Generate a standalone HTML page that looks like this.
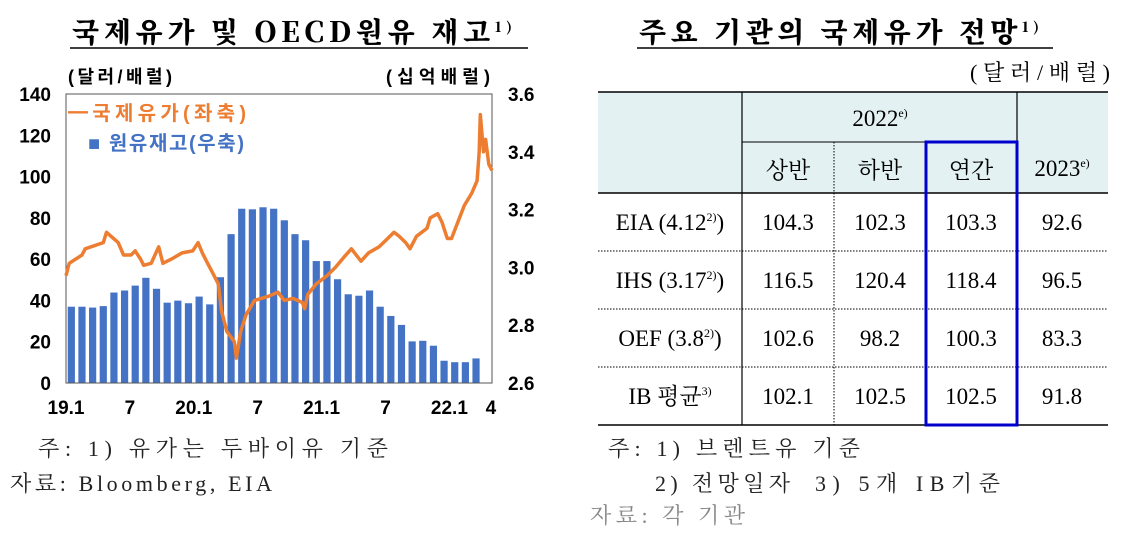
<!DOCTYPE html>
<html><head><meta charset="utf-8">
<style>
html,body{margin:0;padding:0;background:#fff;}
body{width:1127px;height:542px;overflow:hidden;position:relative;}
svg{position:absolute;left:0;top:0;}
.sans{font-family:"Liberation Sans","Noto Sans CJK KR",sans-serif;font-weight:bold;}
.ser{font-family:"Liberation Serif","Noto Serif CJK SC",serif;}
</style></head>
<body>
<svg id="c" width="1127" height="542" viewBox="0 0 1127 542">
  <text x="72" y="42" font-size="28" font-weight="900" font-family="'Noto Serif CJK SC','Noto Sans CJK KR',serif" textLength="440" lengthAdjust="spacing">국제유가 및 OECD원유 재고<tspan font-size="14" dy="-10">1)</tspan></text>
  <line x1="70" y1="48" x2="528" y2="48" stroke="#000" stroke-width="1.5"/>
  <text x="639" y="42" font-size="28" font-weight="900" font-family="'Noto Serif CJK SC','Noto Sans CJK KR',serif" textLength="400" lengthAdjust="spacing">주요 기관의 국제유가 전망<tspan font-size="14" dy="-10">1)</tspan></text>
  <line x1="637" y1="48" x2="1053" y2="48" stroke="#000" stroke-width="1.5"/>

  <g id="chart">
    <text x="68" y="83" class="sans" font-size="18" textLength="104">(달러/배럴)</text>
    <text x="386" y="83" class="sans" font-size="18" textLength="104">(십억배럴)</text>
  </g>

  <g id="table"></g>

  <g class="ser" font-size="22" fill="#222">
    <text x="38" y="456" textLength="350" lengthAdjust="spacing">주: 1) 유가는 두바이유 기준</text>
    <text x="10" y="491" textLength="262" lengthAdjust="spacing">자료: Bloomberg, EIA</text>
    <text x="608" y="456" textLength="252" lengthAdjust="spacing">주: 1) 브렌트유 기준</text>
    <text x="655" y="491" textLength="135" lengthAdjust="spacing">2) 전망일자</text>
    <text x="815" y="491" textLength="185" lengthAdjust="spacing">3) 5개 IB기준</text>
    <text x="590" y="523" fill="#888" textLength="155" lengthAdjust="spacing">자료: 각 기관</text>
  </g>
  <text x="970" y="80" class="ser" font-size="22" textLength="140" lengthAdjust="spacing">(달러/배럴)</text>
</svg>
<script>
// ---- chart data ----
const leftTicks = [0,20,40,60,80,100,120,140];
const rightTicks = ["2.6","2.8","3.0","3.2","3.4","3.6"];
const xLabels = ["19.1","7","20.1","7","21.1","7","22.1","4"];
const xLabelMonths = [0,6,12,18,24,30,36,39.9];
const stockValues = [2.864,2.864,2.861,2.866,2.913,2.920,2.937,2.964,2.926,2.878,2.885,2.876,2.899,2.872,2.966,3.115,3.203,3.201,3.208,3.203,3.163,3.115,3.094,3.022,3.022,2.959,2.907,2.902,2.920,2.864,2.832,2.801,2.744,2.746,2.729,2.677,2.672,2.672,2.685];
const oilMonths = [0,0.3,1.5,1.8,3.5,3.8,4.9,5.4,6.1,6.5,7,7.3,8,8.7,9.1,9.9,10.9,11.9,12.4,12.8,13.3,13.8,14.3,14.6,15.1,15.8,16,16.4,16.9,17.7,19,19.9,20.5,21.3,22.2,22.4,22.7,23.5,24.5,25.3,26.1,26.8,27.4,27.7,28.4,29.4,30,30.8,31.3,31.9,32.3,32.9,33.9,34.2,34.9,35.3,35.8,36.2,36.8,37.4,38.1,38.6,38.8,38.9,39.2,39.4,39.7,40];
const oilValues = [52,58,62,65,68,73,68,62,62,64,60,57,58,66,58,60,63,64,68,63,58,53,48,35,25,20,12,25,33,40,42,44,40,41,39,36,43,48,52,56,61,65,61,59,63,66,69,73,71,68,65,71,75,80,82,78,70,70,78,86,92,98,112,130,112,118,106,103];
// ---- table data ----
const rowLabels = ["EIA (4.12","IHS (3.17","OEF (3.8","IB 평균"];
const rowSup = ["2)","2)","2)","3)"];
const col1 = ["104.3","116.5","102.6","102.1"];
const col2 = ["102.3","120.4","98.2","102.5"];
const col3 = ["103.3","118.4","100.3","102.5"];
const col4 = ["92.6","96.5","83.3","91.8"];

const NS="http://www.w3.org/2000/svg";
function mk(tag,attrs,parent){const e=document.createElementNS(NS,tag);for(const k in attrs)e.setAttribute(k,attrs[k]);parent.appendChild(e);return e;}
const L=66,R=492,T=94,B=383;
const months=40, slot=(R-L)/months;
const xM=m=>L+m*slot;
const yL=v=>B-(v/140)*(B-T);
const yR=v=>B-((v-2.6)/1.0)*(B-T);
const g=document.getElementById('chart');

stockValues.forEach((v,i)=>{
  const cx=xM(i+0.5), y=yR(v);
  const r=mk('rect',{x:cx-3.6,y:y,width:7.2,height:B-y,fill:'#4472c4'},g);
  
  
});
const fr=mk('rect',{x:L,y:T,width:R-L,height:B-T,fill:'none',stroke:'#555','stroke-width':1},g);


const pts=oilMonths.map((m,i)=>xM(m).toFixed(1)+','+yL(oilValues[i]).toFixed(1)).join(' ');
const pl=mk('polyline',{points:pts,fill:'none',stroke:'#ed7d31','stroke-width':3.5,'stroke-linejoin':'round'},g);


leftTicks.forEach(v=>{
  const t=mk('text',{x:51,y:yL(v)+7,'text-anchor':'end','font-size':19,class:'sans'},g);
  t.textContent=v;
  
  
});
rightTicks.forEach(v=>{
  const t=mk('text',{x:508,y:yR(parseFloat(v))+7,'font-size':19,class:'sans'},g);
  t.textContent=v;
  
  
});
xLabels.forEach((s,i)=>{
  const t=mk('text',{x:xM(xLabelMonths[i]),y:414,'text-anchor':'middle','font-size':19,class:'sans'},g);
  t.textContent=s;
  
  
});
const l1=mk('text',{x:68,y:120,'font-size':20,class:'sans',fill:'#ed7d31',textLength:178},g);
l1.textContent='━국제유가(좌축)';


const l2=mk('text',{x:88,y:150,'font-size':20,class:'sans',fill:'#4472c4',textLength:156},g);
l2.textContent='■ 원유재고(우축)';



const tb=document.getElementById('table');
const rows=[193,251,309,367,425];
const hd=mk('rect',{x:598,y:92,width:510,height:101,fill:'#e3f1f3'},tb);


function ln(x1,y1,x2,y2,w,dash,name){const l=mk('line',{x1,y1,x2,y2,stroke:'#000','stroke-width':w},tb);if(dash)l.setAttribute('stroke-dasharray',dash);}
ln(598,92,1108,92,1.5,null,'table-top-border');
ln(598,193,1108,193,1.5,null,'header-bottom-border');
ln(598,425,1108,425,1.5,null,'table-bottom-border');
ln(742,142,1017,142,1,null,'header-mid-line');
ln(742,92,742,425,1.2,null,'col-line');
ln(1017,92,1017,425,1.2,null,'col-line');
ln(834,142,834,425,1,'1.5,1.5','col-dotted-line');
for(let i=1;i<4;i++) ln(598,rows[i],1108,rows[i],1,'1.5,1.5','row-dotted-line');
const box=mk('rect',{x:926,y:142,width:91,height:283,fill:'none',stroke:'#0000cc','stroke-width':3},tb);


function tx(x,y,s,name,sup,close){const t=mk('text',{x,y,'text-anchor':'middle','font-size':23,class:'ser'},tb);t.textContent=s;if(sup){const sp=mk('tspan',{'font-size':12,dy:-9},t);sp.textContent=sup;if(close){const c=mk('tspan',{'font-size':23,dy:9},t);c.textContent=')';}}return t;}
tx(880,126,'2022','header-2022','e)');
tx(1062,176,'2023','header-2023','e)');
tx(788,178,'상반','header-first-half');
tx(880,178,'하반','header-second-half');
tx(971,178,'연간','header-annual');
rowLabels.forEach((s,i)=>{
  const cy=(rows[i]+rows[i+1])/2+8;
  tx(670,cy,s,'row-label',rowSup[i],i<3);
  tx(788,cy,col1[i],'cell-first-half');
  tx(880,cy,col2[i],'cell-second-half');
  tx(971,cy,col3[i],'cell-annual');
  tx(1062,cy,col4[i],'cell-2023');
});
</script>
</body></html>
